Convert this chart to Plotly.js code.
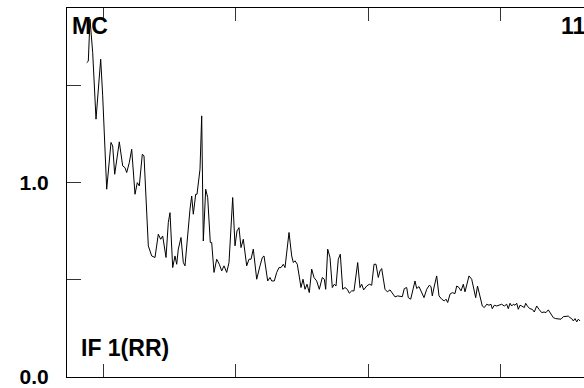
<!DOCTYPE html>
<html>
<head>
<meta charset="utf-8">
<script src="https://cdn.plot.ly/plotly-3.0.1.min.js"></script>
<style>html,body{margin:0;padding:0;background:#fff;}#chart{width:584px;height:388px;}</style>
</head>
<body>
<div id="chart"></div>
<script>
// Frequency bin (horizontal position) and spectrum value
const binIndex = [19.7,21.3,23,25.7,29,33.7,35.7,39.7,44,45.7,47.7,52.3,55.7,58,59.7,62.3,64.7,68,70.3,72.3,75.3,77,81.3,84.7,88,91.3,93.7,95.7,99,101.3,103,105.7,108,109.7,111.3,114,116.3,118,123,124.7,126.3,128.7,130,132,133,134.7,136.3,138.7,140.7,143.3,144.7,147,149.7,152.3,154.7,157,159.7,162,165.7,168,170,172,174,176.3,179.7,182,184,186.3,189.7,193,195.3,197,200.7,203,204.7,207.3,209.7,212,214,216.3,218,222,224.7,226.3,228,230.3,234,236,238,240,242.3,244.7,247,249.7,252.3,255.3,257.3,258.7,260.7,263,265.3,267.3,269,271.3,273.3,275.7,278,280.3,282.3,284.7,287,290.7,293,294.7,296.7,299.7,302.3,304.7,307,309,311.3,313,314.7,318,320.3,323,325.3,328,330.7,333,335.3,337.3,339.7,341.3,343.7,348,349.7,352,354.7,357,359.7,362.3,364,365.3,367.3,369.7,372,374.7,377.3,379,380.7,383,385.3,388,389.7,392,394,396.3,398,402,404.7,407,408.7,410.5,415.3,417.3,419.7,422,424,425.3,427.3,429.7,432,434.7,437.3,439.7,441.3,443,444.7,446.3,448,449.7,451.3,453,454.7,457.3,458.7,460.7,463,465.3,467.3,469.7,472,474.7,477,479,481.3,484,486.3,488.7,491.3,494,496.3,498.7,501.3,503,504.7,506.3,508,509.7,511.3,513];
const spectrum = [1.616,1.624,1.84,1.668,1.325,1.634,1.445,0.964,1.205,1.187,1.041,1.208,1.084,1.075,1.05,1.101,1.17,0.938,0.998,0.981,1.144,1.136,0.672,0.62,0.612,0.732,0.706,0.723,0.612,0.792,0.843,0.56,0.62,0.577,0.655,0.715,0.586,0.569,0.861,0.929,0.835,0.938,0.938,1.015,1.067,1.342,0.697,0.964,0.921,0.689,0.689,0.535,0.603,0.577,0.543,0.569,0.535,0.586,0.921,0.672,0.749,0.766,0.663,0.706,0.569,0.603,0.603,0.655,0.5,0.569,0.612,0.62,0.491,0.509,0.491,0.491,0.535,0.56,0.56,0.577,0.56,0.741,0.62,0.586,0.595,0.577,0.457,0.5,0.448,0.474,0.431,0.552,0.509,0.491,0.448,0.509,0.5,0.448,0.655,0.612,0.457,0.474,0.465,0.603,0.629,0.448,0.457,0.448,0.428,0.44,0.44,0.586,0.457,0.474,0.445,0.465,0.474,0.469,0.577,0.577,0.509,0.543,0.555,0.448,0.435,0.445,0.428,0.409,0.414,0.41,0.41,0.452,0.457,0.405,0.397,0.491,0.452,0.462,0.431,0.405,0.448,0.469,0.462,0.414,0.465,0.517,0.414,0.397,0.388,0.397,0.38,0.423,0.431,0.426,0.465,0.457,0.44,0.474,0.435,0.517,0.5,0.448,0.405,0.465,0.362,0.354,0.371,0.366,0.371,0.348,0.366,0.362,0.366,0.371,0.362,0.371,0.348,0.376,0.362,0.371,0.366,0.376,0.345,0.366,0.362,0.354,0.376,0.359,0.348,0.345,0.331,0.362,0.345,0.328,0.331,0.328,0.342,0.32,0.302,0.297,0.297,0.294,0.307,0.307,0.31,0.302,0.297,0.285,0.297,0.28,0.294,0.285];
const xTicks = [36.3,168.8,301.3,433.7];
const yTicks = [0,0.5,1,1.5];
const yTickLabels = ['0.0','','1.0',''];
const labelTopLeft = 'MC';
const labelTopRight = '11';
const labelBottomLeft = 'IF 1(RR)';

const boldFont = {family:'"Liberation Sans", Arial, sans-serif', size:23, color:'#000', weight:'bold'};

const trace = {
  x: binIndex, y: spectrum, type:'scatter', mode:'lines',
  line:{color:'#000', width:1}, hoverinfo:'skip'
};

const layout = {
  width:584, height:388,
  margin:{l:67, r:0, t:8, b:11, pad:0},
  paper_bgcolor:'#fff', plot_bgcolor:'#fff',
  showlegend:false,
  xaxis:{
    range:[0,517], showgrid:false, zeroline:false,
    showline:true, linecolor:'#000', linewidth:1, mirror:'allticks',
    ticks:'inside', ticklen:13, tickcolor:'#333', tickwidth:1,
    tickmode:'array', tickvals:xTicks, showticklabels:false
  },
  yaxis:{
    range:[-0.004,1.898], showgrid:false, zeroline:false,
    showline:true, linecolor:'#000', linewidth:1,
    ticks:'inside', ticklen:14, tickcolor:'#333', tickwidth:1,
    tickmode:'array', tickvals:yTicks, ticktext:yTickLabels,
    tickfont:{family:'"Liberation Sans", Arial, sans-serif', size:21, color:'#000', weight:'bold'},
    ticklabelstandoff:13
  },
  annotations:[
    {text:labelTopLeft, xref:'paper', yref:'paper', x:0.006, y:0.95, xanchor:'left', yanchor:'middle', showarrow:false, font:boldFont},
    {text:labelTopRight, xref:'paper', yref:'paper', x:0.952, y:0.95, xanchor:'left', yanchor:'middle', showarrow:false, font:boldFont},
    {text:labelBottomLeft, xref:'paper', yref:'paper', x:0.023, y:0.078, xanchor:'left', yanchor:'middle', showarrow:false, font:boldFont}
  ]
};

Plotly.newPlot('chart', [trace], layout, {displayModeBar:false, staticPlot:true});
</script>
</body>
</html>
